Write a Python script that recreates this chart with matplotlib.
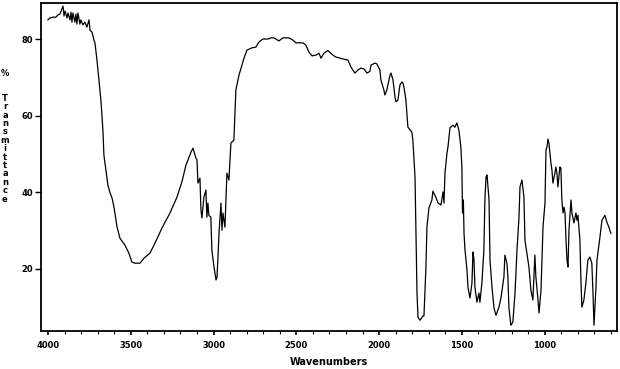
import matplotlib
matplotlib.use('Agg')
import matplotlib.pyplot as plt
from matplotlib.ticker import MultipleLocator

# IR spectrum: wavenumber (cm-1) and % transmittance
wavenumber = [
    4000, 3988, 3970, 3952, 3940, 3928, 3909, 3903, 3897, 3885, 3879, 3867, 3861, 3855,
    3849, 3837, 3831, 3825, 3819, 3807, 3801, 3789, 3777, 3765, 3752, 3746, 3734, 3722,
    3716, 3704, 3692, 3680, 3668, 3662, 3650, 3638, 3626, 3613, 3601, 3583, 3565, 3535,
    3511, 3493, 3475, 3444, 3420, 3384, 3354, 3311, 3263, 3221, 3191, 3167, 3136, 3124,
    3106, 3100, 3094, 3082, 3076, 3070, 3058, 3046, 3040, 3034, 3028, 3016, 3010, 2997,
    2985, 2979, 2973, 2967, 2955, 2949, 2943, 2931, 2925, 2919, 2907, 2895, 2889, 2877,
    2865, 2846, 2828, 2816, 2798, 2768, 2744, 2726, 2702, 2671, 2653, 2635, 2605, 2581,
    2544, 2520, 2502, 2460, 2442, 2424, 2405, 2381, 2363, 2351, 2333, 2309, 2297, 2279,
    2261, 2218, 2188, 2170, 2146, 2128, 2110, 2091, 2073, 2055, 2049, 2025, 2013, 1995,
    1989, 1971, 1965, 1953, 1934, 1928, 1916, 1904, 1898, 1886, 1874, 1862, 1856, 1850,
    1838, 1826, 1802, 1796, 1783, 1777, 1771, 1765, 1753, 1735, 1729, 1717, 1711, 1699,
    1681, 1675, 1657, 1644, 1626, 1614, 1608, 1602, 1590, 1584, 1572, 1554, 1542, 1530,
    1518, 1506, 1500, 1496, 1491, 1487, 1481, 1469, 1463, 1451, 1439, 1433, 1427, 1421,
    1409, 1397, 1391, 1379, 1367, 1361, 1354, 1348, 1342, 1336, 1330, 1318, 1306, 1294,
    1276, 1264, 1246, 1240, 1228, 1222, 1216, 1204, 1192, 1179, 1167, 1155, 1149, 1137,
    1125, 1119, 1095, 1083, 1071, 1059, 1053, 1040, 1034, 1022, 1010, 998, 992, 986,
    980, 974, 962, 956, 950, 938, 932, 926, 920, 908, 902, 896, 889, 883,
    877, 871, 865, 859, 853, 841, 835, 823, 811, 805, 799, 787, 781, 775,
    763, 751, 739, 727, 715, 708, 702, 696, 690, 684, 666, 654, 636, 624,
    612, 600,
]
transmittance = [
    85.0, 85.5, 85.7, 85.7, 86.3, 86.5, 88.6, 86.0, 87.3, 85.5, 86.8, 85.0, 87.0, 84.4,
    86.8, 84.4, 86.5, 83.9, 86.8, 83.9, 85.0, 83.7, 84.4, 83.1, 85.0, 82.3, 81.8, 79.7,
    79.0, 74.5, 69.3, 64.0, 56.2, 49.7, 45.8, 41.9, 40.0, 38.5, 36.1, 31.0, 28.0, 26.2,
    24.1, 21.8, 21.5, 21.5, 22.8, 24.1, 26.7, 30.7, 34.6, 38.7, 42.7, 47.0, 50.5, 51.5,
    48.9, 48.5, 42.4, 43.7, 35.4, 33.3, 38.7, 40.6, 33.5, 37.2, 34.0, 33.5, 24.9, 20.5,
    17.1, 17.9, 23.1, 29.3, 37.2, 30.1, 34.6, 30.9, 38.0, 45.0, 43.2, 52.8, 53.1, 53.6,
    66.7, 70.6, 73.2, 75.0, 77.1, 77.7, 77.9, 79.2, 80.0, 80.0, 80.3, 80.3, 79.5, 80.3,
    80.3, 79.7, 79.0, 79.0, 78.4, 76.6, 75.6, 75.8, 76.3, 75.0, 76.3, 77.0, 76.5, 75.8,
    75.3, 74.8, 74.5, 72.7, 71.1, 71.9, 72.4, 72.2, 71.1, 71.6, 73.2, 73.7, 73.5, 71.9,
    69.3, 66.7, 65.4, 66.7, 70.6, 71.1, 69.3, 64.9, 63.6, 64.1, 68.0, 68.8, 68.5, 67.5,
    64.1, 57.0, 55.7, 53.6, 44.0, 29.3, 13.7, 7.4, 6.6, 7.7, 7.7, 20.5, 30.9, 35.9,
    38.0, 40.3, 38.7, 37.2, 36.7, 40.1, 37.2, 45.0, 50.2, 51.8, 56.8, 57.5, 57.0, 58.1,
    56.2, 51.8, 46.6, 34.6, 38.0, 29.3, 24.9, 19.7, 15.2, 12.4, 16.3, 24.4, 22.5, 15.2,
    11.3, 13.7, 11.3, 16.3, 24.9, 38.0, 44.0, 44.5, 41.4, 38.0, 22.3, 15.2, 9.8, 7.9,
    10.0, 12.4, 17.9, 23.6, 21.5, 17.9, 10.0, 5.3, 6.1, 13.7, 24.9, 33.5, 41.4, 43.2,
    38.7, 27.5, 20.5, 14.5, 11.9, 23.6, 17.9, 11.9, 8.5, 14.5, 30.9, 37.2, 51.0, 51.8,
    53.9, 52.8, 47.6, 45.8, 42.4, 45.0, 46.6, 45.0, 41.4, 46.6, 46.3, 38.0, 34.6, 36.1,
    34.6, 27.5, 22.3, 20.5, 30.1, 38.0, 34.6, 32.0, 34.6, 32.7, 34.0, 27.5, 17.1, 10.0,
    11.9, 16.3, 22.3, 23.1, 21.5, 13.7, 5.3, 10.0, 15.2, 22.3, 28.3, 32.7, 34.0, 32.2,
    30.9, 29.3,
]

y_ticks = [20, 40, 60, 80]
x_ticks = [4000, 3500, 3000, 2500, 2000, 1500, 1000]
ylabel_text = '%  Transmittance'

narrow = ['Liberation Sans Narrow', 'DejaVu Sans']
tick_font = {'family': narrow, 'weight': 'bold', 'size': 6}

fig = plt.figure(figsize=(6.2, 3.69), dpi=100)
ax = fig.add_axes([41 / 620, 38 / 369, 576 / 620, 328 / 369])

ax.plot(wavenumber, transmittance, color='black', lw=0.9)

ax.set_xlim(4042, 563)
ax.set_ylim(3.8, 89.4)

ax.set_xticks(x_ticks)
ax.set_xticklabels([str(t) for t in x_ticks], fontdict=tick_font)
ax.xaxis.set_minor_locator(MultipleLocator(100))
ax.set_yticks(y_ticks)
ax.set_yticklabels([str(t) for t in y_ticks], fontdict=tick_font)

ax.tick_params(axis='x', which='major', length=3, width=1.2, pad=4, direction='out')
ax.tick_params(axis='x', which='minor', length=2, width=0.8, direction='out')
ax.tick_params(axis='y', which='major', length=4, width=1.0, pad=1.5, direction='out')

for sp in ax.spines.values():
    sp.set_linewidth(1.3)

ax.set_xlabel('Wavenumbers', fontdict={'family': narrow, 'weight': 'bold', 'size': 7},
              labelpad=5)

# vertical, stacked y label like the instrument software prints it
y0 = 73
for i, ch in enumerate(ylabel_text):
    if ch == ' ':
        continue
    fig.text(5 / 620, 1 - (y0 + i * 8.4) / 369, ch, ha='center', va='center',
             fontdict=tick_font)

fig.savefig('out.png', dpi=100)
